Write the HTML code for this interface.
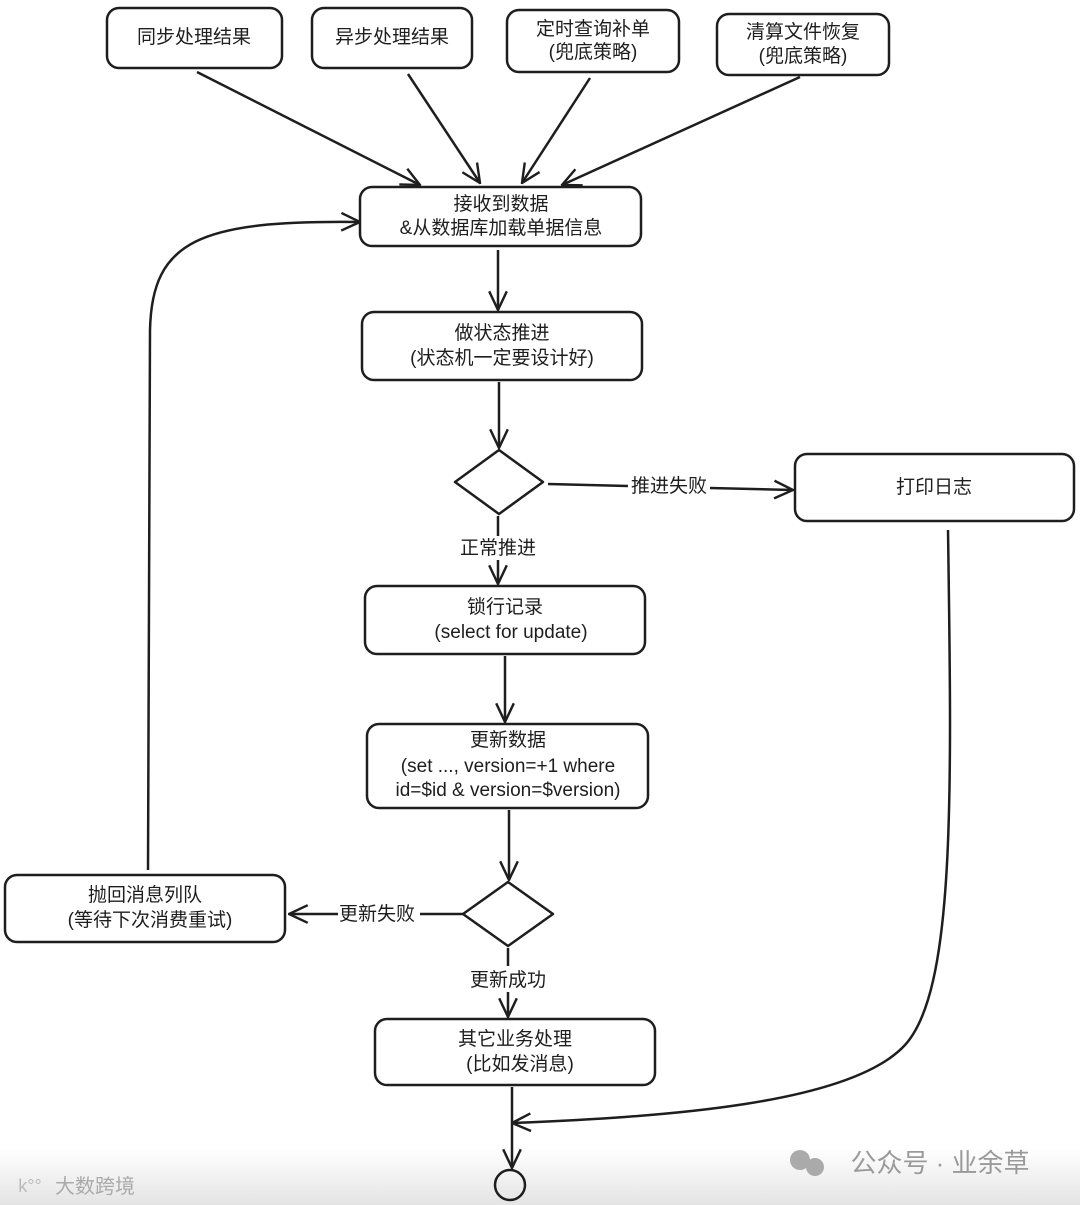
<!DOCTYPE html>
<html><head><meta charset="utf-8"><style>
html,body{margin:0;padding:0;background:#fff;}
body{width:1080px;height:1205px;position:relative;overflow:hidden;}
.bar{position:absolute;left:0;top:1148px;width:1080px;height:57px;background:linear-gradient(#fff,#e4e4e4);}
svg{position:absolute;left:0;top:0;}
text{font-family:"Liberation Sans","Noto Sans CJK SC",sans-serif;font-size:19px;fill:#1e1e1e;text-anchor:middle;}
</style></head><body>
<div class="bar"></div>
<svg width="1080" height="1205" viewBox="0 0 1080 1205">
<defs>
<marker id="a" viewBox="0 0 20 20" refX="19" refY="10" markerWidth="22" markerHeight="22" markerUnits="userSpaceOnUse" orient="auto">
<path d="M2 2 L19 10 L2 18" fill="none" stroke="#1e1e1e" stroke-width="2.2"/>
</marker>
</defs>
<g fill="none" stroke="#1e1e1e" stroke-width="2.5">
<rect x="107" y="8" width="175" height="60" rx="12"/>
<rect x="312" y="8" width="160" height="60" rx="12"/>
<rect x="507" y="10" width="172" height="62" rx="12"/>
<rect x="717" y="14" width="172" height="61" rx="12"/>
<rect x="360" y="187" width="281" height="59" rx="12"/>
<rect x="362" y="312" width="280" height="68" rx="12"/>
<path d="M499 450 L543 482 L499 514 L455 482 Z" stroke-linejoin="round"/>
<rect x="795" y="454" width="279" height="67" rx="12"/>
<rect x="365" y="586" width="280" height="68" rx="12"/>
<rect x="367" y="724" width="281" height="84" rx="12"/>
<path d="M508 882 L553 914 L508 946 L463 914 Z" stroke-linejoin="round"/>
<rect x="5" y="875" width="280" height="67" rx="12"/>
<rect x="375" y="1019" width="280" height="66" rx="12"/>
<ellipse cx="510" cy="1185" rx="15" ry="15"/>
</g>
<g fill="none" stroke="#1e1e1e" stroke-width="2.5" marker-end="url(#a)">
<path d="M197 72 L420 185"/>
<path d="M408 74 L480 183"/>
<path d="M590 78 L522 183"/>
<path d="M800 77 L562 185"/>
<path d="M498 250 L498 310"/>
<path d="M499 382 L499 448"/>
<path d="M548 484 L628 486 M710 488 L793 490"/>
<path d="M498 516 L498 536 M498 560 L498 584"/>
<path d="M505 656 L505 722"/>
<path d="M509 810 L509 880"/>
<path d="M463 914 L420 914 M338 914 L289 914"/>
<path d="M508 948 L508 966 M508 992 L508 1017"/>
<path d="M512 1087 L512 1168"/>
<path d="M148 870 L150 330 C152 240 200 220 360 222"/>
<path d="M948 530 C952 800 955 990 905 1045 C850 1105 660 1117 512 1123"/>
</g>
<text x="194" y="43">同步处理结果</text>
<text x="392" y="43">异步处理结果</text>
<text x="593" y="35">定时查询补单</text>
<text x="593" y="58">(兜底策略)</text>
<text x="803" y="38">清算文件恢复</text>
<text x="803" y="62">(兜底策略)</text>
<text x="501" y="210">接收到数据</text>
<text x="501" y="234">&amp;从数据库加载单据信息</text>
<text x="502" y="339">做状态推进</text>
<text x="502" y="364">(状态机一定要设计好)</text>
<text x="669" y="492">推进失败</text>
<text x="934" y="493">打印日志</text>
<text x="498" y="554">正常推进</text>
<text x="505" y="613">锁行记录</text>
<text x="511" y="638">(select for update)</text>
<text x="508" y="746">更新数据</text>
<text x="508" y="772">(set ..., version=+1 where</text>
<text x="508" y="796">id=$id &amp; version=$version)</text>
<text x="377" y="920">更新失败</text>
<text x="145" y="901">抛回消息列队</text>
<text x="150" y="926">(等待下次消费重试)</text>
<text x="508" y="986">更新成功</text>
<text x="515" y="1045">其它业务处理</text>
<text x="520" y="1070">(比如发消息)</text>
<text x="940" y="1172" style="font-size:26px;fill:#9a9a9a">公众号 · 业余草</text>
<circle cx="800" cy="1160" r="10" fill="#aaa"/><circle cx="815" cy="1167" r="9" fill="#aaa"/>
<text x="95" y="1193" style="font-size:20px;fill:#aaa">大数跨境</text>
<text x="30" y="1192" style="font-size:18px;fill:#bbb">k°°</text>
</svg>
</body></html>
